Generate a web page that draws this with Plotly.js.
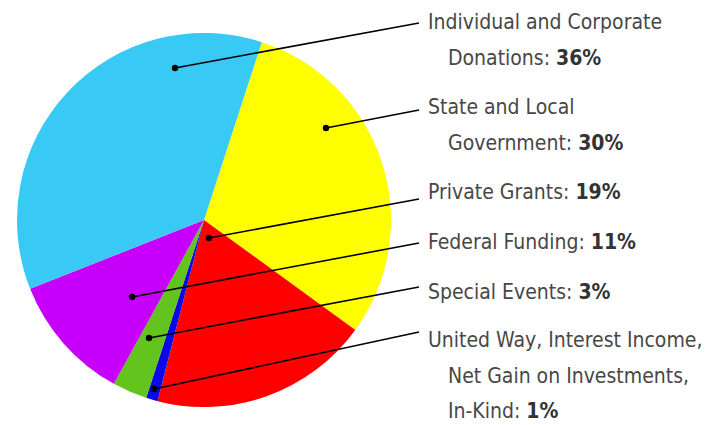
<!DOCTYPE html>
<html>
<head>
<meta charset="utf-8">
<script src="https://cdn.plot.ly/plotly-3.0.1.min.js"></script>
<style>html,body{margin:0;padding:0;background:#fff;}#chart{width:707px;height:425px;}</style>
</head>
<body>
<div id="chart"></div>
<script>
// Slices in clockwise order starting at the top boundary
var categories = ['State and Local Government', 'Private Grants',
  'United Way, Interest Income, Net Gain on Investments, In-Kind',
  'Special Events', 'Federal Funding', 'Individual and Corporate Donations'];
var values = [30, 19, 1, 3, 11, 36];
var sliceColors = ['#ffff00', '#ff0000', '#0a0ae6', '#62c41c', '#c700fb', '#38c9f5'];

// Callout labels (top to bottom): text lines and the percent
var calloutCategory = ['Individual and Corporate Donations', 'State and Local Government',
  'Private Grants', 'Federal Funding', 'Special Events',
  'United Way, Interest Income, Net Gain on Investments, In-Kind'];
var calloutLines = [
  ['Individual and Corporate', 'Donations: '],
  ['State and Local', 'Government: '],
  ['Private Grants: '],
  ['Federal Funding: '],
  ['Special Events: '],
  ['United Way, Interest Income,', 'Net Gain on Investments,', 'In-Kind: ']
];

var W = 707, H = 425;
function px(x) { return x / W; }
function py(y) { return 1 - y / H; }

// layout positions (pixels) for leader dots, line ends and text lines
var dotPos = [[175, 68], [326, 128], [209, 238], [132, 297], [149, 338], [154, 389]];
var lineEnd = [[419, 23], [419, 110], [419, 199], [419, 243], [419, 287], [419, 332]];
var textY = [[22, 58], [107, 143], [192], [242], [292], [340, 376, 411]];

var shapes = [], annotations = [];
var font = {family: '"DejaVu Sans Condensed", "DejaVu Sans", sans-serif', size: 21, color: '#474747'};
for (var i = 0; i < calloutLines.length; i++) {
  var d = dotPos[i], e = lineEnd[i];
  shapes.push({type: 'line', xref: 'paper', yref: 'paper', x0: px(d[0]), y0: py(d[1]), x1: px(e[0]), y1: py(e[1]),
    line: {color: '#000', width: 1.6}});
  shapes.push({type: 'circle', xref: 'paper', yref: 'paper', xsizemode: 'pixel', ysizemode: 'pixel',
    xanchor: px(d[0]), yanchor: py(d[1]), x0: -3.2, x1: 3.2, y0: -3.2, y1: 3.2,
    fillcolor: '#000', line: {width: 0}});
  var k = categories.indexOf(calloutCategory[i]);
  var pct = values[k] + '%';
  var lines = calloutLines[i];
  for (var j = 0; j < lines.length; j++) {
    var t = lines[j];
    if (j === lines.length - 1) t += '<b style="color:#333">' + pct + '</b>';
    annotations.push({xref: 'paper', yref: 'paper', x: px(j === 0 ? 426 : 446), y: py(textY[i][j]),
      xanchor: 'left', yanchor: 'middle', showarrow: false, text: t, font: font});
  }
}

var trace = {
  type: 'pie', labels: categories, values: values, sort: false, direction: 'clockwise', rotation: 18,
  marker: {colors: sliceColors, line: {width: 0}}, textinfo: 'none', hoverinfo: 'label+percent',
  domain: {x: [px(17), px(391)], y: [py(407), py(33)]}
};

Plotly.newPlot('chart', [trace], {
  width: W, height: H, margin: {l: 0, r: 0, t: 0, b: 0}, showlegend: false,
  paper_bgcolor: '#ffffff', shapes: shapes, annotations: annotations
}, {displayModeBar: false, staticPlot: true});
</script>
</body>
</html>
